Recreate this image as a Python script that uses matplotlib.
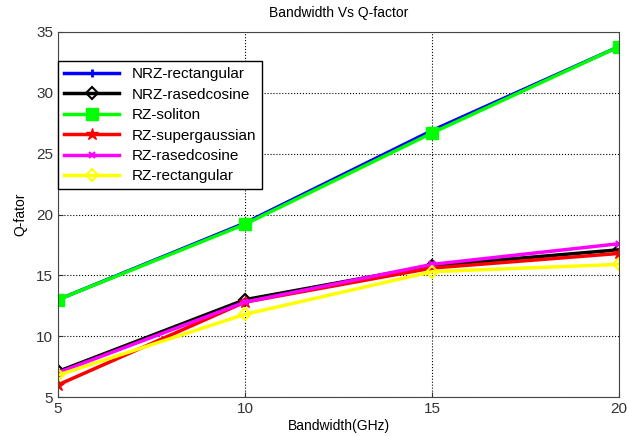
import matplotlib.pyplot as plt

plt.rcParams['font.family'] = ['Liberation Sans', 'DejaVu Sans']

# Bandwidth (GHz) and Q-factor
bandwidth = [5, 10, 15, 20]
nrz_rect = [13.0, 19.3, 26.9, 33.8]
nrz_rcos = [7.1, 13.0, 15.8, 17.1]
rz_soliton = [13.0, 19.2, 26.7, 33.8]
rz_sgauss = [6.0, 12.8, 15.6, 16.8]
rz_rcos = [7.0, 12.8, 15.9, 17.6]
rz_rect = [6.8, 11.8, 15.3, 15.9]

fig = plt.figure(figsize=(6.28, 4.37), dpi=100)
ax = fig.add_axes([0.0924, 0.0915, 0.8933, 0.8353])

ax.plot(bandwidth, nrz_rect, color='#0000ff', lw=2.5, marker='+', ms=6, mew=2, label='NRZ-rectangular')
ax.plot(bandwidth, nrz_rcos, color='black', lw=2.5, marker='D', ms=6, mfc='none', mew=1.5, label='NRZ-rasedcosine')
ax.plot(bandwidth, rz_soliton, color='#00ff00', lw=2.5, marker='s', ms=9, label='RZ-soliton')
ax.plot(bandwidth, rz_sgauss, color='#ff0000', lw=2.5, marker='*', ms=9, label='RZ-supergaussian')
ax.plot(bandwidth, rz_rcos, color='#ff00ff', lw=2.5, marker='x', ms=5, mew=1.5, label='RZ-rasedcosine')
ax.plot(bandwidth, rz_rect, color='#ffff00', lw=2.5, marker='D', ms=6, mfc='none', mew=1.5, label='RZ-rectangular')

ax.set_xlim(5, 20)
ax.set_ylim(5, 35)
ax.set_xticks([5, 10, 15, 20])
ax.set_yticks([5, 10, 15, 20, 25, 30, 35])
ax.grid(True, color='black', linestyle=':', linewidth=0.8)
ax.tick_params(direction='in', labelsize=11, colors='#333333')
for s in ax.spines.values():
    s.set_color('#444444')

ax.set_title('Bandwidth Vs Q-factor', fontsize=10, pad=11)
ax.set_xlabel('Bandwidth(GHz)', fontsize=10, labelpad=2)
ax.set_ylabel('Q-fator', fontsize=10, labelpad=6)

leg = ax.legend(loc='upper left', bbox_to_anchor=(0.0, 0.92), borderaxespad=0,
                fontsize=11, fancybox=False, framealpha=1, handlelength=3.6,
                labelspacing=0.42, borderpad=0.4)
leg.get_frame().set_edgecolor('black')

fig.savefig('out.png', dpi=100)
